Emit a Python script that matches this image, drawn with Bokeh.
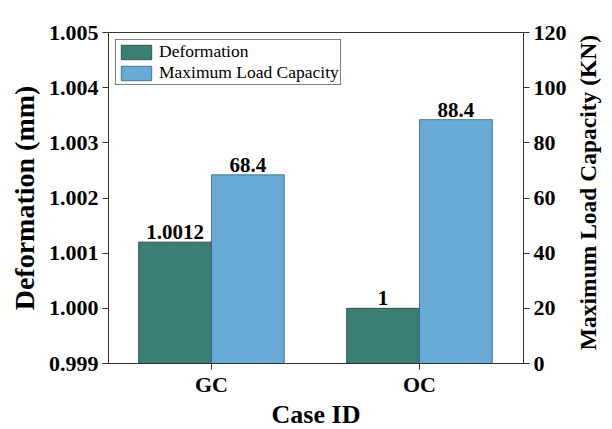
import math
from bokeh.plotting import figure
from bokeh.layouts import row
from bokeh.models import (ColumnDataSource, Range1d, LinearAxis, FixedTicker,
                          NumeralTickFormatter, Legend, LegendItem)
from bokeh.core.properties import value
from bokeh.embed import file_html
from bokeh.resources import INLINE

cases = ["GC", "OC"]
deformation = [1.0012, 1.0]
max_load = [68.4, 88.4]
def_labels = ["1.0012", "1"]
load_labels = ["68.4", "88.4"]
left_ticks = [0.999, 1.000, 1.001, 1.002, 1.003, 1.004, 1.005]
right_ticks = [0, 20, 40, 60, 80, 100, 120]
right_title = "Maximum Load Capacity (KN)"

FONT = "Liberation Serif"
TEAL = "#3c8077"
BLUE = "#6aacd8"

xpos = [i + 1 for i in range(len(cases))]
bw = 0.35
src = ColumnDataSource(dict(
    xd=[x - bw / 2 for x in xpos],
    xl=[x + bw / 2 for x in xpos],
    d=deformation, l=max_load,
    dl=def_labels, ll=load_labels,
    base=[left_ticks[0]] * len(cases),
))

FW, FH = 415, 331
TOP = 32
TOTAL_H = 426
p = figure(frame_width=FW, frame_height=FH, output_backend="svg",
           toolbar_location=None, title=None,
           x_range=Range1d(0.505, 2.5), y_range=Range1d(0.999, 1.005),
           min_border_left=108, min_border_right=53, min_border_top=TOP,
           min_border_bottom=56)
p.extra_y_ranges = {"load": Range1d(0, 120)}

rd = p.vbar(x="xd", width=bw, top="d", bottom="base", source=src,
            fill_color=TEAL, line_color="#1e3f3a", line_width=0.8,
            hatch_pattern="cross", hatch_scale=3, hatch_weight=0.5,
            hatch_color="#2a6a60", hatch_alpha=0.3)
rl = p.vbar(x="xl", width=bw, top="l", bottom=0, source=src, y_range_name="load",
            fill_color=BLUE, line_color="#2f5f80", line_width=0.8,
            hatch_pattern="cross", hatch_scale=3, hatch_weight=0.5,
            hatch_color="#5a9ac6", hatch_alpha=0.3)

p.text(x="xd", y="d", text="dl", source=src, text_align="center",
       text_baseline="bottom", y_offset=-3, text_font=value(FONT),
       text_font_style="bold", text_font_size="21px", text_color="black")
p.text(x="xl", y="l", text="ll", source=src, y_range_name="load",
       text_align="center", text_baseline="bottom", y_offset=-3,
       text_font=value(FONT), text_font_style="bold", text_font_size="21px",
       text_color="black")

# axes
p.xaxis.ticker = FixedTicker(ticks=xpos)
p.xaxis.major_label_overrides = {x: c for x, c in zip(xpos, cases)}
p.xaxis.axis_label = "Case ID"
p.yaxis.ticker = FixedTicker(ticks=left_ticks)
p.yaxis.formatter = NumeralTickFormatter(format="0.000")
p.yaxis.axis_label = "Deformation (mm)"

ra = LinearAxis(y_range_name="load", ticker=FixedTicker(ticks=right_ticks))
p.add_layout(ra, "right")

for ax in [p.xaxis[0], p.yaxis[0], ra]:
    ax.major_label_text_font = FONT
    ax.major_label_text_font_style = "bold"
    ax.major_label_text_font_size = "22px"
    ax.major_label_text_color = "black"
    ax.axis_label_text_font = FONT
    ax.axis_label_text_font_style = "bold"
    ax.axis_label_text_color = "black"
    ax.axis_label_text_font_size = "28px"
    ax.axis_line_color = "#333333"
    ax.major_tick_line_color = "#333333"
    ax.major_tick_out = 6
    ax.major_tick_in = 0
    ax.minor_tick_line_color = None
    ax.axis_label_standoff = 6
    ax.major_label_standoff = 4

p.xaxis[0].axis_label_standoff = 0
p.xaxis[0].major_label_standoff = 2
p.xaxis[0].axis_label_text_font_size = "26px"

p.xgrid.grid_line_color = None
p.ygrid.grid_line_color = None
p.outline_line_color = "#333333"
p.outline_line_width = 1

legend = Legend(items=[LegendItem(label="Deformation", renderers=[rd]),
                       LegendItem(label="Maximum Load Capacity", renderers=[rl])],
                location="top_left")
legend.label_text_font = FONT
legend.label_text_font_size = "17.5px"
legend.label_text_color = "black"
legend.glyph_width = 38
legend.glyph_height = 18
legend.label_height = 18
legend.spacing = 0
legend.padding = 1
legend.margin = 7
legend.border_line_color = "black"
legend.border_line_width = 1
legend.label_standoff = 4
p.add_layout(legend)

# right axis title (reads bottom-to-top) in a narrow side panel
p2 = figure(frame_width=28, frame_height=TOTAL_H, output_backend="svg",
            toolbar_location=None, title=None,
            x_range=Range1d(0, 1), y_range=Range1d(0, TOTAL_H),
            min_border_left=0, min_border_right=0, min_border_top=0,
            min_border_bottom=0)
p2.xaxis.visible = False
p2.yaxis.visible = False
p2.xgrid.grid_line_color = None
p2.ygrid.grid_line_color = None
p2.outline_line_color = None
p2.text(x=[0.4], y=[TOTAL_H - 160], text=[right_title], angle=math.pi / 2,
        text_align="center", text_baseline="middle", text_font=value(FONT),
        text_font_style="bold", text_font_size="23.5px", text_color="black")

layout = row(p, p2)
open("out.html", "w").write(file_html(layout, INLINE))
